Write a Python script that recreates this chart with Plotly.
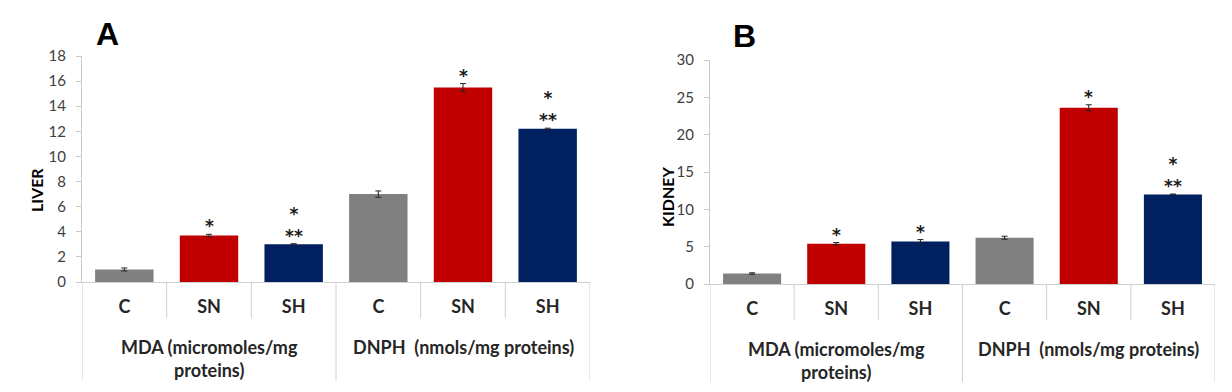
import plotly.graph_objects as go

# ---------------- data ----------------
categories = ["C", "SN", "SH", "C", "SN", "SH"]
groups = ["MDA (micromoles/mg<br>proteins)", "DNPH  (nmols/mg proteins)"]
bar_colors = ["#808080", "#C00000", "#002060", "#808080", "#C00000", "#002060"]

liver_values = [1.0, 3.7, 3.0, 7.0, 15.5, 12.2]
liver_errors = [0.12, 0.10, 0.05, 0.25, 0.30, 0.05]
liver_sig = ["", "*", "*<br>**", "", "*", "*<br>**"]

kidney_values = [1.4, 5.4, 5.7, 6.2, 23.6, 12.0]
kidney_errors = [0.10, 0.15, 0.25, 0.20, 0.40, 0.05]
kidney_sig = ["", "*", "*", "", "*", "*<br>**"]

FONT = "Lato"
W, H = 1232, 392

fig = go.Figure()

panels = [
    dict(vals=liver_values, errs=liver_errors, sig=liver_sig, title="LIVER", letter="A",
         xd=[82 / W, 590 / W], yd=[(H - 282) / H, (H - 56) / H], rng=[0, 18], dt=2,
         xs="x", ys="y", letter_xy=(107, 34), title_xy=(36, 190)),
    dict(vals=kidney_values, errs=kidney_errors, sig=kidney_sig, title="KIDNEY", letter="B",
         xd=[710 / W, 1215 / W], yd=[(H - 284) / H, (H - 60) / H], rng=[0, 30], dt=5,
         xs="x2", ys="y2", letter_xy=(744, 36), title_xy=(667, 197)),
]

annotations = []
shapes = []
xpos = list(range(len(categories)))

for p in panels:
    fig.add_trace(go.Bar(
        x=xpos, y=p["vals"], width=0.69,
        marker=dict(color=bar_colors, line=dict(width=0)),
        error_y=dict(type="data", array=p["errs"], color="#222222", thickness=1, width=3),
        xaxis=p["xs"], yaxis=p["ys"], showlegend=False, hoverinfo="skip",
    ))
    # significance marks
    for i, (v, e, s) in enumerate(zip(p["vals"], p["errs"], p["sig"])):
        if s:
            annotations.append(dict(
                x=i, y=v + e, xref=p["xs"], yref=p["ys"], text=s, showarrow=False,
                yanchor="bottom", xanchor="center", yshift=-4,
                font=dict(family="DejaVu Sans", size=17, color="#1a1a1a", weight="bold"),
            ))
    ybot = p["yd"][0]
    short_end = ybot - 36 / H
    long_end = ybot - 98 / H
    for b in [0.5, 1.5, 3.5, 4.5]:
        shapes.append(dict(type="line", xref=p["xs"], yref="paper", x0=b, x1=b,
                           y0=ybot, y1=short_end, line=dict(color="#D0D0D0", width=1)))
    for b in [-0.5, 2.5, 5.5]:
        shapes.append(dict(type="line", xref=p["xs"], yref="paper", x0=b, x1=b,
                           y0=ybot, y1=long_end, line=dict(color="#D0D0D0", width=1)))
    # group labels
    for gi, g in enumerate(groups):
        annotations.append(dict(
            x=1 + 3 * gi, y=ybot - 52 / H, xref=p["xs"], yref="paper", text=g,
            showarrow=False, yanchor="top", xanchor="center",
            font=dict(family=FONT, size=18, color="#262626", weight="bold"),
        ))
    # panel letter
    lx, ly = p["letter_xy"]
    annotations.append(dict(
        x=lx / W, y=(H - ly) / H, xref="paper", yref="paper", text=p["letter"],
        showarrow=False, xanchor="center", yanchor="middle",
        font=dict(family="Liberation Sans", size=32, color="#000000", weight="bold"),
    ))
    # y title
    tx, ty = p["title_xy"]
    annotations.append(dict(
        x=tx / W, y=(H - ty) / H, xref="paper", yref="paper", text=p["title"],
        showarrow=False, textangle=-90, xanchor="center", yanchor="middle",
        font=dict(family=FONT, size=16, color="#000000", weight="bold"),
    ))

common_x = dict(
    range=[-0.5, 5.5], tickmode="array", tickvals=xpos, ticktext=categories,
    showline=True, linecolor="#D0D0D0", linewidth=1, ticks="", showgrid=False,
    zeroline=False, ticklabelstandoff=8, automargin=False,
    tickfont=dict(family=FONT, size=18, color="#262626", weight="bold"),
    fixedrange=True,
)
common_y = dict(
    showline=True, linecolor="#C8C8C8", linewidth=1, ticks="outside", ticklen=5,
    tickcolor="#C8C8C8", showgrid=False, zeroline=False, automargin=False,
    ticklabelstandoff=7,
    tickfont=dict(family=FONT, size=15, color="#404040"), fixedrange=True,
)

fig.update_layout(
    width=W, height=H, margin=dict(l=0, r=0, t=0, b=0, autoexpand=False),
    paper_bgcolor="white", plot_bgcolor="white",
    xaxis=dict(domain=panels[0]["xd"], anchor="y", **common_x),
    yaxis=dict(domain=panels[0]["yd"], anchor="x", range=panels[0]["rng"], dtick=panels[0]["dt"], **common_y),
    xaxis2=dict(domain=panels[1]["xd"], anchor="y2", **common_x),
    yaxis2=dict(domain=panels[1]["yd"], anchor="x2", range=panels[1]["rng"], dtick=panels[1]["dt"], **common_y),
    annotations=annotations, shapes=shapes, bargap=0.31,
)

fig.write_html("out.html", config={"displayModeBar": False},
               post_script="document.body.style.margin='0';")
